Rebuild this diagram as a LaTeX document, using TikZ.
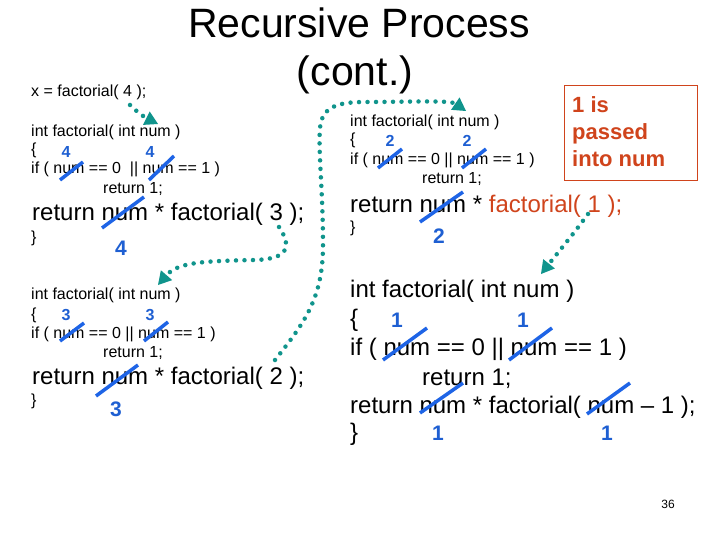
\documentclass[tikz,border=0pt]{standalone}
\usepackage{fontspec}
\setmainfont{Liberation Sans}
\usetikzlibrary{arrows.meta}
\definecolor{teal2}{RGB}{16,148,140}
\definecolor{numblue}{RGB}{30,95,210}
\definecolor{slashblue}{RGB}{30,100,230}
\definecolor{redorange}{RGB}{208,68,28}
\begin{document}
\begin{tikzpicture}[x=1pt,y=-1pt,
  code/.style={anchor=base west,inner sep=0pt,font=\fontsize{16}{19}\selectfont},
  bigcode/.style={anchor=base west,inner sep=0pt,font=\fontsize{24}{29}\selectfont},
  numlbl/.style={inner sep=0pt,text=numblue,font=\bfseries\fontsize{16}{19}\selectfont},
  bignum/.style={inner sep=0pt,text=numblue,font=\bfseries\fontsize{21}{25}\selectfont},
  strike/.style={draw=slashblue,line width=3.5pt},
  note/.style={anchor=base west,inner sep=0pt,text=redorange,font=\bfseries\fontsize{22}{27}\selectfont},
  flow/.style={draw=teal2,line width=4.5pt,line cap=round,dash pattern=on 0pt off 8.5pt,
    -{Triangle[length=13pt,width=15pt,line width=0pt]}}]
\useasboundingbox[fill=white] (0,0) rectangle (720,540);

% title
\node (t1) [anchor=base,inner sep=0pt,font=\fontsize{41}{48}\selectfont] at (359,38) {Recursive Process};
\node (t2) [anchor=base,inner sep=0pt,font=\fontsize{41}{48}\selectfont] at (355,86) {(cont.)};

% block 1
\node (x0) [code] at (31,97) {x = factorial( 4 );};
\node (b1a) [code] at (31,137) {int factorial( int num )};
\node (b1b) [code] at (31,155) {\{};
\node (b1c) [code] at (31,174) {if ( num == 0\ \ || num == 1 )};
\node (b1d) [code] at (103,194) {return 1;};
\node (b1e) [bigcode] at (32,221) {return num * factorial( 3 );};
\node (b1f) [code] at (31,242) {\}};
\node (n1a) [numlbl] at (66,152) {4};
\node (n1b) [numlbl] at (150,152) {4};
\node (n1c) [bignum] at (121,248) {4};
\draw[strike] (60,180) -- (83,162);
\draw[strike] (149,180) -- (174,156);
\draw[strike] (102,228) -- (144,197);

% block 2
\node (b2a) [code] at (31,299) {int factorial( int num )};
\node (b2b) [code] at (31,319) {\{};
\node (b2c) [code] at (31,338) {if ( num == 0 || num == 1 )};
\node (b2d) [code] at (103,357) {return 1;};
\node (b2e) [bigcode] at (32,384) {return num * factorial( 2 );};
\node (b2f) [code] at (31,405) {\}};
\node (n2a) [numlbl] at (66,315) {3};
\node (n2b) [numlbl] at (150,315) {3};
\node (n2c) [bignum] at (116,409) {3};
\draw[strike] (60,341) -- (84,323);
\draw[strike] (144,341) -- (168,322);
\draw[strike] (96,396) -- (138,365);

% block 3
\node (b3a) [code] at (350,127) {int factorial( int num )};
\node (b3b) [code] at (350,145) {\{};
\node (b3c) [code] at (350,165) {if ( num == 0 || num == 1 )};
\node (b3d) [code] at (422,184) {return 1;};
\node (b3e) [bigcode] at (350,212) {return num * \textcolor{redorange}{factorial( 1 );}};
\node (b3f) [code] at (350,233) {\}};
\node (n3a) [numlbl] at (390,141) {2};
\node (n3b) [numlbl] at (467,141) {2};
\node (n3c) [bignum] at (439,236) {2};
\draw[strike] (378,168) -- (402,149);
\draw[strike] (462,168) -- (486,149);
\draw[strike] (420,222) -- (463,192);

% note box
\node (box) [draw=redorange,line width=0.9pt,anchor=north west,inner sep=0pt,
  minimum width=133pt,minimum height=95pt] at (564,85) {};
\node (nt1) [note] at (572,113) {1 is};
\node (nt2) [note] at (572,140) {passed};
\node (nt3) [note] at (572,167) {into num};

% block 4
\node (b4a) [bigcode] at (350,297) {int factorial( int num )};
\node (b4b) [bigcode] at (350,326) {\{};
\node (b4c) [bigcode] at (350,355) {if ( num == 0 || num == 1 )};
\node (b4d) [bigcode] at (422,385) {return 1;};
\node (b4e) [bigcode] at (350,413) {return num * factorial( num -- 1 );};
\node (b4f) [bigcode] at (350,440) {\}};
\node (n4a) [bignum] at (397,320) {1};
\node (n4b) [bignum] at (523,320) {1};
\node (n4c) [bignum] at (438,433) {1};
\node (n4d) [bignum] at (607,433) {1};
\draw[strike] (383,360) -- (427,328);
\draw[strike] (509,360) -- (552,328);
\draw[strike] (420,413) -- (463,383);
\draw[strike] (587,414) -- (630,383);

% flow arrows
\coordinate (a1s) at (130,105);
\coordinate (a1e) at (158,124);
\draw[flow] (a1s) .. controls (138,113) and (146,118) .. (a1e);

\coordinate (a2s) at (279,227);
\coordinate (a2e) at (158,285);
\draw[flow] (a2s) .. controls (293,248) and (287,259) .. (255,260)
  .. controls (205,261) and (178,262) .. (a2e);

\coordinate (a3s) at (275,360);
\coordinate (a3e) at (466,111);
\draw[flow] (a3s) .. controls (305,322) and (323,298) .. (323,245)
  .. controls (323,190) and (318,150) .. (320,128)
  .. controls (322,108) and (335,102) .. (365,102)
  .. controls (410,102) and (450,100) .. (a3e);

\coordinate (a4s) at (588,214);
\coordinate (a4e) at (541,274);
\draw[flow] (a4s) .. controls (575,232) and (560,250) .. (a4e);

% page number
\node (pg) [inner sep=0pt,font=\fontsize{12}{14}\selectfont] at (668,504) {36};
\end{tikzpicture}
\end{document}
